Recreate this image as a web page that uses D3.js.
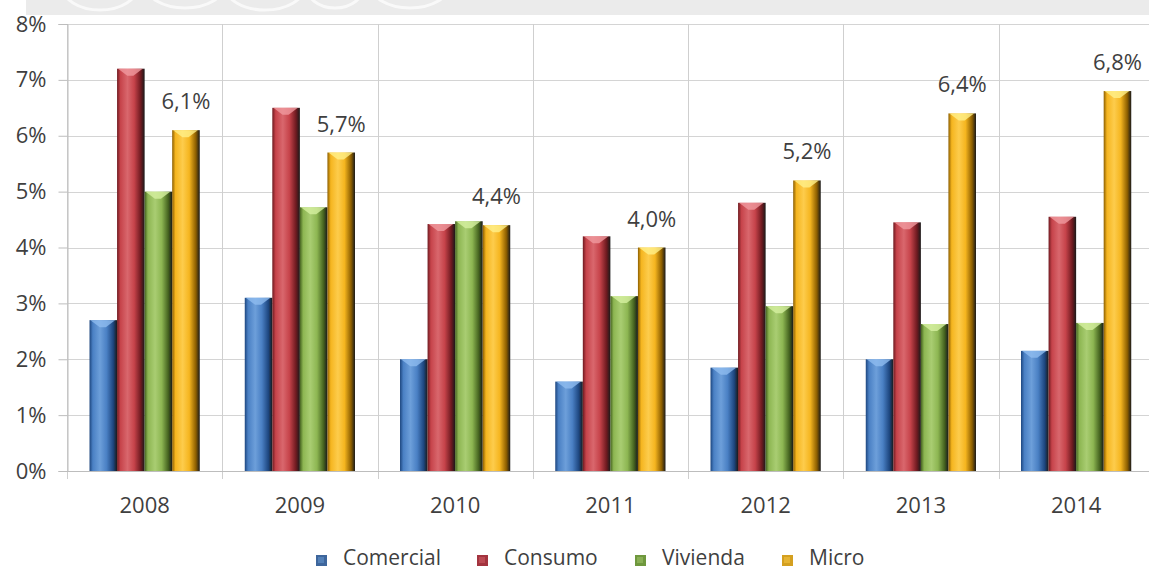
<!DOCTYPE html>
<html>
<head>
<meta charset="utf-8">
<script src="https://cdn.jsdelivr.net/npm/d3@7"></script>
<style>
  html, body { margin: 0; padding: 0; background: #ffffff; }
  svg { display: block; }
  text { font-family: "Open Sans", "DejaVu Sans", sans-serif; fill: #3f3f3f; }
</style>
</head>
<body>
<svg id="chart" width="1149" height="571"></svg>
<script>
// Morosidad por tipo de crédito, 2008–2014 (%)
const years = ["2008", "2009", "2010", "2011", "2012", "2013", "2014"];
const seriesNames = ["Comercial", "Consumo", "Vivienda", "Micro"];
const comercial = [2.7, 3.1, 2.0, 1.6, 1.85, 2.0, 2.15];
const consumo   = [7.2, 6.5, 4.42, 4.2, 4.8, 4.45, 4.55];
const vivienda  = [5.0, 4.72, 4.47, 3.13, 2.95, 2.63, 2.65];
const micro     = [6.1, 5.7, 4.4, 4.0, 5.2, 6.4, 6.8];
const yTicks = [0, 1, 2, 3, 4, 5, 6, 7, 8];
const labeledSeries = "Micro";

const seriesValues = { Comercial: comercial, Consumo: consumo, Vivienda: vivienda, Micro: micro };

const palette = {
  Comercial: { dark: "#1d467f", base: "#4a80c4", light: "#6d9fda", cap: "#8fbcef", key: "#3e669c" },
  Consumo:   { dark: "#6e1a20", base: "#c6434a", light: "#d9676d", cap: "#f09a9f", key: "#a3343f" },
  Vivienda:  { dark: "#44621f", base: "#8db652", light: "#a9cd72", cap: "#d6f0a0", key: "#6f983e" },
  Micro:     { dark: "#8c5e00", base: "#f5b51f", light: "#fdcc4c", cap: "#fff08a", key: "#d4a020" }
};

const svg = d3.select("#chart");
const margin = { left: 67, top: 24, bottom: 471 };
const plotRight = 67 + 7 * 155.25;

// light banner strip along the top edge
const defs = svg.append("defs");
const banner = svg.append("g");
banner.append("rect").attr("x", 26).attr("y", 0).attr("width", 1123).attr("height", 15).attr("fill", "#ebebeb");
defs.append("clipPath").attr("id", "bannerClip")
  .append("rect").attr("x", 26).attr("y", 0).attr("width", 1123).attr("height", 15);
const swirl = banner.append("g").attr("clip-path", "url(#bannerClip)")
  .attr("fill", "none").attr("stroke", "#ffffff").attr("stroke-width", 3).attr("opacity", 0.7);
[[100, -14, 38], [185, -16, 40], [265, -14, 40], [335, -16, 30], [410, -16, 40]].forEach(([cx, cy, r]) => {
  swirl.append("ellipse").attr("cx", cx).attr("cy", cy).attr("rx", r).attr("ry", 24);
});

const x0 = d3.scaleBand().domain(years).range([margin.left, plotRight])
  .paddingInner(0.29).paddingOuter(0.145);
const x1 = d3.scaleBand().domain(seriesNames).range([0, x0.bandwidth()]).padding(0);
const y = d3.scaleLinear().domain([0, 8]).range([margin.bottom, margin.top]);

// gradients for the cylinder-like shading
seriesNames.forEach(name => {
  const c = palette[name];
  const g = defs.append("linearGradient").attr("id", "grad-" + name)
    .attr("x1", "0%").attr("x2", "100%").attr("y1", "0%").attr("y2", "0%");
  g.append("stop").attr("offset", "0%").attr("stop-color", c.dark);
  g.append("stop").attr("offset", "12%").attr("stop-color", c.base);
  g.append("stop").attr("offset", "38%").attr("stop-color", c.light);
  g.append("stop").attr("offset", "62%").attr("stop-color", c.base);
  g.append("stop").attr("offset", "86%").attr("stop-color", c.dark);
  g.append("stop").attr("offset", "100%").attr("stop-color", "#1a1a1a");
});

// horizontal gridlines
svg.append("g").selectAll("line").data(yTicks).join("line")
  .attr("x1", margin.left).attr("x2", plotRight)
  .attr("y1", d => Math.round(y(d)) + 0.5).attr("y2", d => Math.round(y(d)) + 0.5)
  .attr("stroke", "#d4d4d4").attr("stroke-width", 1);

// vertical category separators
const step = x0.step();
const boundaries = d3.range(years.length + 1).map(i => margin.left + i * step);
svg.append("g").selectAll("line").data(boundaries).join("line")
  .attr("x1", d => Math.round(d) + 0.5).attr("x2", d => Math.round(d) + 0.5)
  .attr("y1", margin.top).attr("y2", margin.bottom + 8)
  .attr("stroke", "#cfcfcf").attr("stroke-width", 1);

// y axis
const yAxis = svg.append("g").attr("transform", `translate(${margin.left + 0.5},0)`)
  .call(d3.axisLeft(y).tickValues(yTicks).tickFormat(d => d + "%").tickSize(9).tickPadding(12));
yAxis.select(".domain").attr("stroke", "#bdbdbd");
yAxis.selectAll(".tick line").attr("stroke", "#bdbdbd");
yAxis.selectAll(".tick text").style("font-size", "22px").attr("fill", "#3f3f3f")
  .style("font-family", "'Open Sans', sans-serif");

// x axis baseline and labels
const xAxis = svg.append("g").attr("transform", `translate(0,${margin.bottom + 0.5})`)
  .call(d3.axisBottom(x0).tickSize(0).tickPadding(26));
xAxis.select(".domain").attr("stroke", "#bdbdbd").attr("d", `M${margin.left},0H${plotRight}`);
xAxis.selectAll(".tick text").style("font-size", "22px").attr("fill", "#3f3f3f")
  .style("font-family", "'Open Sans', sans-serif");

// bars
const rows = years.map((yr, i) => ({
  year: yr,
  values: seriesNames.map(name => ({ name, value: seriesValues[name][i] }))
}));

const groups = svg.append("g").selectAll("g").data(rows).join("g")
  .attr("transform", d => `translate(${x0(d.year)},0)`);

groups.selectAll("rect.bar").data(d => d.values).join("rect")
  .attr("class", "bar")
  .attr("x", d => x1(d.name))
  .attr("y", d => y(d.value))
  .attr("width", x1.bandwidth())
  .attr("height", d => y(0) - y(d.value))
  .attr("fill", d => `url(#grad-${d.name})`);

// bevelled top cap
groups.selectAll("path.cap").data(d => d.values).join("path")
  .attr("class", "cap")
  .attr("d", d => {
    const l = x1(d.name) + 1, r = x1(d.name) + x1.bandwidth() - 2, t = y(d.value);
    const m = (l + r) / 2;
    return `M${l},${t}L${r},${t}L${m + 3},${t + 7}L${m - 3},${t + 7}Z`;
  })
  .attr("fill", d => palette[d.name].cap)
  .attr("opacity", 0.8);

// value labels
const fmt = d3.formatLocale({ decimal: ",", thousands: ".", grouping: [3], currency: ["", ""] }).format(".1f");
groups.selectAll("text.val").data(d => d.values.filter(v => v.name === labeledSeries)).join("text")
  .attr("class", "val")
  .attr("x", d => x1(d.name) + x1.bandwidth() / 2)
  .attr("y", d => y(d.value) - 21)
  .attr("text-anchor", "middle")
  .style("font-size", "22px")
  .text(d => fmt(d.value) + "%");

// legend
const legendX = [316, 477, 635, 782];
const legend = svg.append("g").selectAll("g").data(seriesNames).join("g")
  .attr("transform", (d, i) => `translate(${legendX[i]},555)`);
legend.append("rect").attr("width", 11).attr("height", 11)
  .attr("fill", d => palette[d].key);
legend.append("rect").attr("x", 2).attr("y", 2).attr("width", 6).attr("height", 6)
  .attr("fill", d => palette[d].light).attr("opacity", 0.45);
legend.append("text").attr("x", 27).attr("y", 10)
  .style("font-size", "21px").text(d => d);
</script>
</body>
</html>
